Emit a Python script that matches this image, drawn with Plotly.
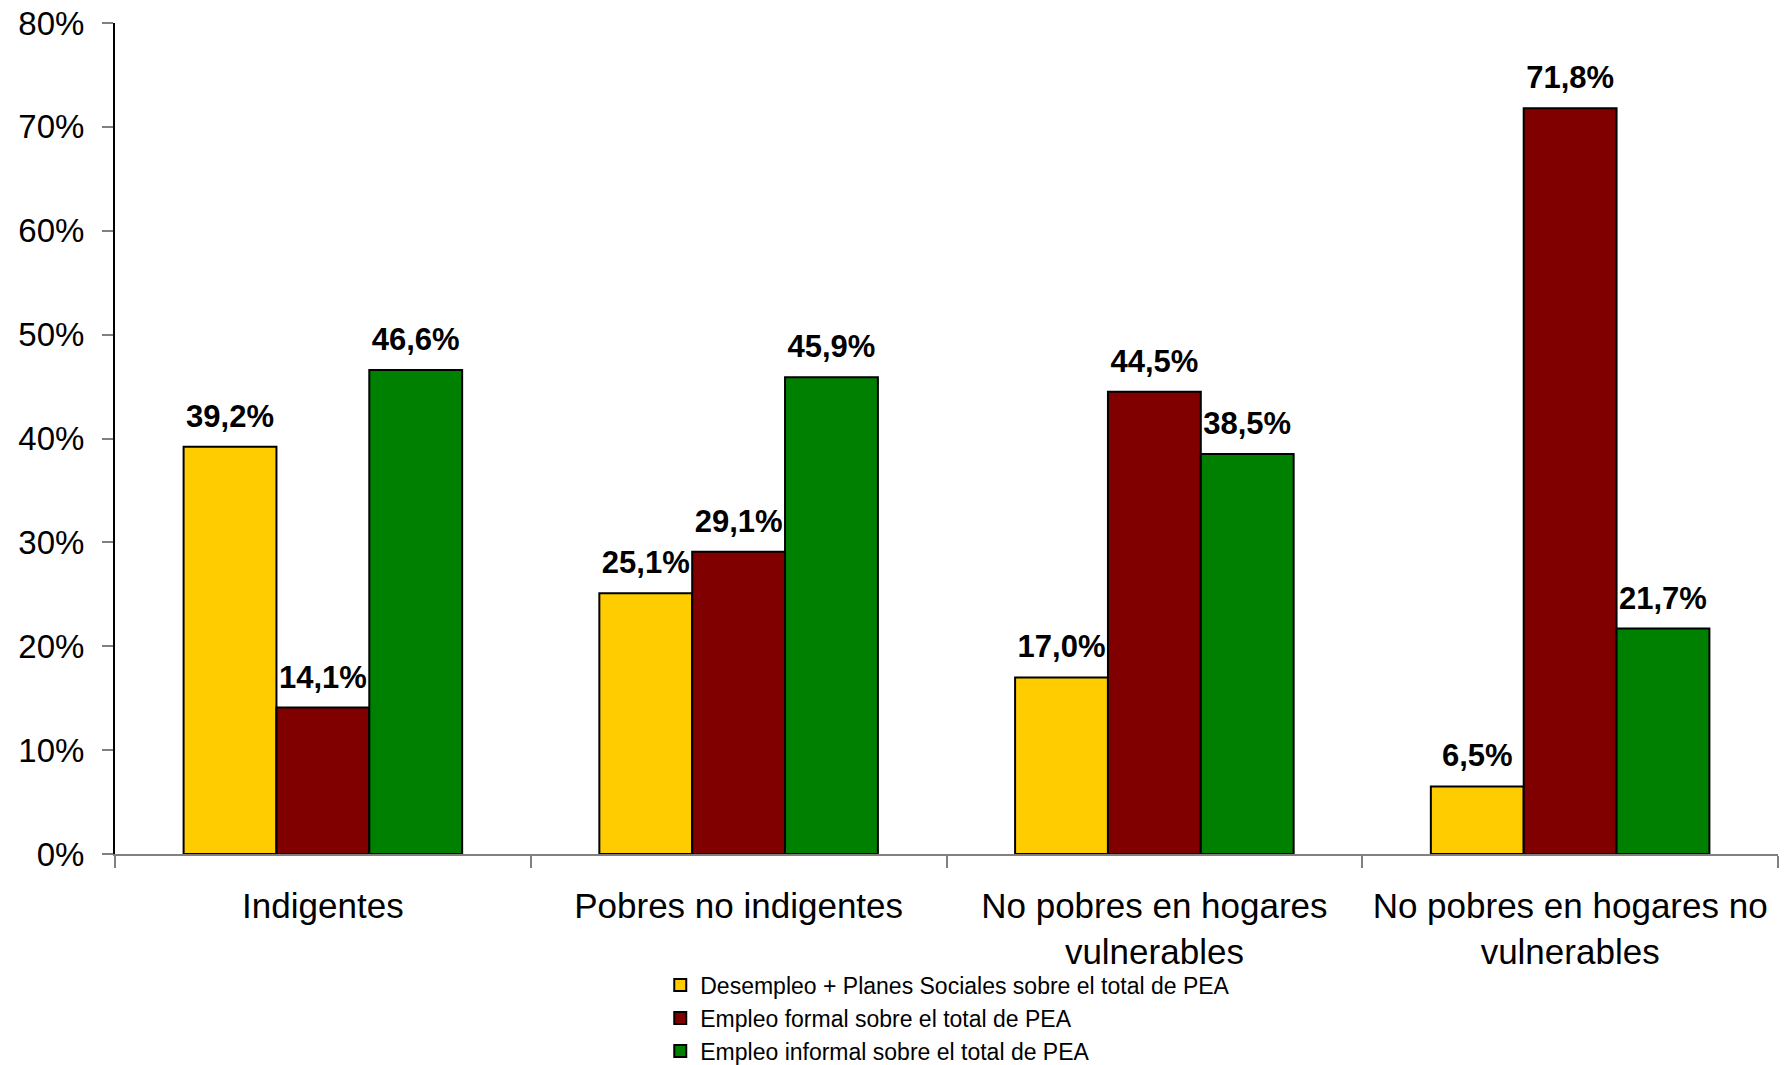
import plotly.graph_objects as go

categories = ["Indigentes", "Pobres no indigentes",
              "No pobres en hogares<br>vulnerables",
              "No pobres en hogares no<br>vulnerables"]
series_names = ["Desempleo + Planes Sociales sobre el total de PEA",
                "Empleo formal sobre el total de PEA",
                "Empleo informal sobre el total de PEA"]
desempleo = [39.2, 25.1, 17.0, 6.5]
formal = [14.1, 29.1, 44.5, 71.8]
informal = [46.6, 45.9, 38.5, 21.7]
colors = ["#FFCC00", "#800000", "#008000"]
y_ticks = [0, 10, 20, 30, 40, 50, 60, 70, 80]
y_tick_labels = [f"{v}%" for v in y_ticks]

FONT = "Liberation Sans, Arial, sans-serif"
fig = go.Figure()
all_series = [desempleo, formal, informal]
for i, (name, vals, col) in enumerate(zip(series_names, all_series, colors)):
    fig.add_trace(go.Bar(
        x=categories, y=vals, name=name, offsetgroup=str(i),
        marker=dict(color=col, line=dict(color="black", width=2)),
    ))
for i, vals in enumerate(all_series):
    fig.add_trace(go.Scatter(
        x=categories, y=vals, offsetgroup=str(i), mode="markers+text",
        marker=dict(size=18, color="rgba(0,0,0,0)"),
        text=[f"{v:.1f}%".replace(".", ",") for v in vals],
        textposition="top center",
        textfont=dict(family=FONT, size=31, color="black", weight="bold"),
        showlegend=False, hoverinfo="skip", cliponaxis=False,
    ))

fig.update_layout(
    width=1787, height=1065,
    barmode="group", bargap=0.33, bargroupgap=0,
    scattermode="group", scattergap=0.33,
    plot_bgcolor="white", paper_bgcolor="white",
    margin=dict(l=107, r=17, t=15, b=219, autoexpand=False),
    font=dict(family=FONT, color="black"),
    legend=dict(x=0.365, xanchor="left", xref="container",
                y=0.0515, yanchor="middle", yref="container",
                font=dict(size=23), traceorder="normal",
                tracegroupgap=0, itemwidth=30, bgcolor="rgba(0,0,0,0)"),
    showlegend=True,
)
fig.update_xaxes(
    showline=True, linecolor="#808080", linewidth=2,
    ticks="outside", tickson="boundaries", ticklen=12, tickcolor="#808080",
    tickwidth=2, tickfont=dict(size=35), showgrid=False,
    ticklabelstandoff=20, automargin=False,
)
fig.update_yaxes(
    range=[0, 80], tickvals=y_ticks, ticktext=y_tick_labels,
    showline=True, linecolor="black", linewidth=2,
    ticks="outside", ticklen=11, tickcolor="#808080", tickwidth=2,
    tickfont=dict(size=33), showgrid=False, zeroline=False,
    ticklabelstandoff=11, automargin=False, ticklabeloverflow="allow",
)
fig.write_html("out.html")
